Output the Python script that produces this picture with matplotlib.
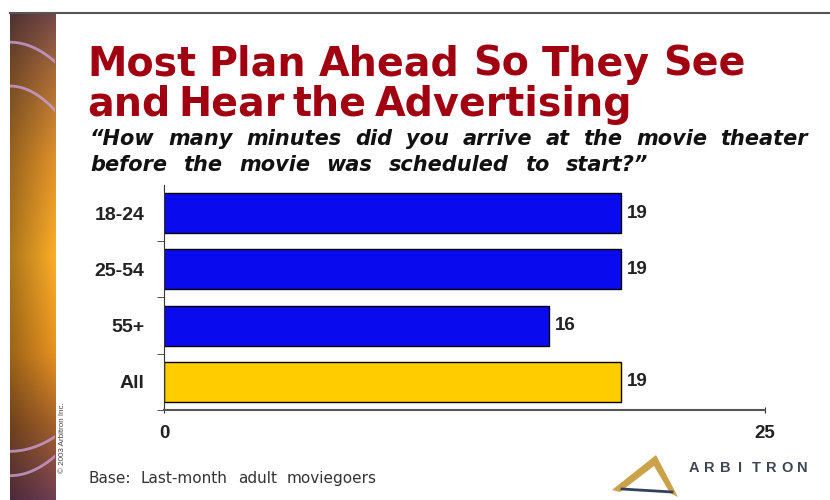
import numpy as np
import matplotlib.pyplot as plt
from matplotlib.lines import Line2D
from matplotlib.patches import Polygon

# minutes arrived before the scheduled start, by age group
groups = ['18-24', '25-54', '55+', 'All']
minutes = [19, 19, 16, 19]
bar_colors = ['#0a0aee', '#0a0aee', '#0a0aee', '#ffcc00']
x_ticks = [0, 25]

title_lines = ['Most Plan Ahead So They See', 'and Hear the Advertising']
question = ['\u201cHow many minutes did you arrive at the movie theater',
            'before the movie was scheduled to start?\u201d']
base_note = 'Base: Last-month adult moviegoers'

plt.rcParams['font.family'] = ['Liberation Sans', 'DejaVu Sans']

W, H = 830, 500
fig = plt.figure(figsize=(W / 100, H / 100), dpi=100)
fig.patch.set_facecolor('white')
renderer = fig.canvas.get_renderer()

def fx(px):
    return px / W

def fy(py):
    return 1 - py / H

def spread_words(line, x0, x1, baseline, **kw):
    """Lay the words of a line out between x0 and x1 (pixels), evenly spaced."""
    words = line.split()
    items = [fig.text(0, fy(baseline), w, va='baseline', **kw) for w in words]
    widths = [t.get_window_extent(renderer).width for t in items]
    gap = (x1 - x0 - sum(widths)) / max(len(words) - 1, 1)
    x = x0
    for t, w in zip(items, widths):
        t.set_x(fx(x))
        x += w + gap

# decorative strip down the left edge
strip = fig.add_axes([fx(10), 0, fx(45), 1 - 13 / H])
rows = np.linspace(0, 1, 200)
stops = [0.0, 0.12, 0.3, 0.5, 0.7, 0.85, 1.0]
reds = [0.42, 0.60, 0.80, 0.90, 0.82, 0.58, 0.40]
greens = [0.26, 0.38, 0.52, 0.62, 0.52, 0.34, 0.22]
blues = [0.26, 0.20, 0.15, 0.14, 0.12, 0.15, 0.30]
col = np.linspace(0.75, 1.1, 40)
img = np.zeros((200, 40, 3))
for k, ch in enumerate([reds, greens, blues]):
    v = np.interp(rows, stops, ch)
    img[:, :, k] = np.clip(np.outer(v, col), 0, 1)
strip.imshow(img, aspect='auto', extent=[0, 1, 1, 0])
t = np.linspace(0, 1, 50)
for y0, amp in [(0.06, 0.04), (0.15, 0.05), (0.9, -0.03), (0.95, -0.04)]:
    strip.plot(t, y0 + amp * t ** 2, color='#c9a0d8', lw=2, alpha=0.8)
strip.set_xlim(0, 1)
strip.set_ylim(1, 0)
strip.axis('off')

# rule across the top
fig.add_artist(Line2D([fx(10), 1], [fy(13), fy(13)], color='#555555', lw=1.5))

# title and question
title_kw = dict(color='#a00010', fontsize=28.5, fontweight='bold',
                family='DejaVu Sans')
spread_words(title_lines[0], 87, 745, 76, **title_kw)
spread_words(title_lines[1], 87, 632, 116, **title_kw)
q_kw = dict(color='#111111', fontsize=15, fontweight='bold',
            fontstyle='italic', family='DejaVu Sans')
spread_words(question[0], 90, 808, 145, **q_kw)
spread_words(question[1], 90, 648, 171, **q_kw)

# bar chart
ax = fig.add_axes([fx(164), fy(410), fx(601), 225 / H])
y = np.arange(len(groups))
ax.barh(y, minutes, height=0.71, color=bar_colors, edgecolor='black', lw=1)
for yi, v in zip(y, minutes):
    ax.text(v + 0.25, yi, str(v), va='center', ha='left', fontsize=13.5,
            fontweight='bold', color='#222222')

ax.set_xlim(0, 25)
ax.set_ylim(len(groups) - 0.5, -0.5)
ax.set_xticks(x_ticks)
ax.set_xticklabels([str(v) for v in x_ticks], fontsize=13.5,
                   fontweight='bold', color='#222222')
ax.set_yticks(y)
ax.set_yticklabels(groups, fontsize=14, fontweight='bold', color='#222222')
ax.set_yticks(y + 0.5, minor=True)
ax.tick_params(axis='y', which='major', length=0, pad=14)
ax.tick_params(axis='y', which='minor', length=5, direction='out',
               color='#333333')
ax.tick_params(axis='x', length=5, direction='inout', pad=8, color='#333333')
for side in ['top', 'right']:
    ax.spines[side].set_visible(False)
ax.spines['left'].set_color('#333333')
ax.spines['bottom'].set_color('#555555')
ax.spines['bottom'].set_linewidth(1.5)

# footer
spread_words(base_note, 88, 377, 483, fontsize=11, color='#333333',
             family='DejaVu Sans')
fig.text(fx(63), fy(438), '\u00a9 2003 Arbitron Inc.', fontsize=5.8,
         color='#444444', rotation=90, ha='center', va='center')

# logo
fig.add_artist(Polygon([(fx(612), fy(490)), (fx(656), fy(455)),
                        (fx(678), fy(497)), (fx(670), fy(493)),
                        (fx(654), fy(466)), (fx(620), fy(492))],
                       closed=True, facecolor='#caa24a', edgecolor='none'))
fig.add_artist(Line2D([fx(622), fx(672)], [fy(489), fy(492)],
                      color='#34405a', lw=2))
for i, ch in enumerate('ARBITRON'):
    fig.text(fx(694 + i * 15.5), fy(472), ch, fontsize=10.5,
             fontweight='bold', color='#3d4455', ha='center', va='baseline')

fig.savefig('out.png', dpi=100)
